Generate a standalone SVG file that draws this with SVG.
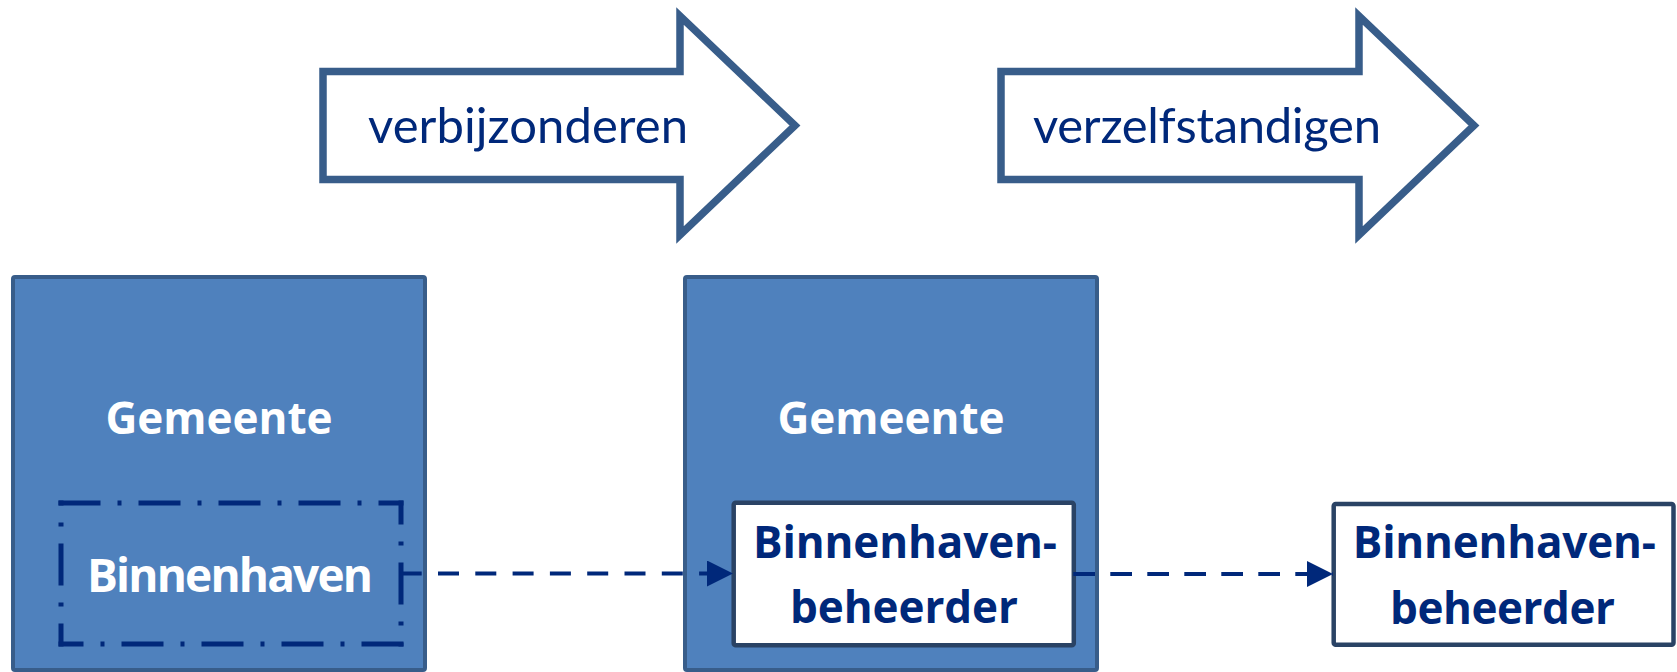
<svg xmlns="http://www.w3.org/2000/svg" width="1677" height="672" viewBox="0 0 1677 672">
<style>
.bg{fill:#ffffff}
.outer{fill:#4F81BD;stroke:#385D8A;stroke-width:4}
.inner{fill:#ffffff;stroke:#2A4365;stroke-width:4.5}
.bigarrow{fill:#ffffff;stroke:#385D8A;stroke-width:7.5;stroke-linejoin:miter;stroke-miterlimit:10}
.dd{stroke:#00287A;stroke-width:5;stroke-dasharray:42 17 4 17;fill:none}
.conn{stroke:#00287A;stroke-width:4;fill:none}
.lbl{font-family:Lato,"Liberation Sans",sans-serif;fill:#00287A}
.w{font-family:"Open Sans","Liberation Sans",sans-serif;font-weight:bold;fill:#ffffff}
.b{font-family:"Open Sans","Liberation Sans",sans-serif;font-weight:bold;fill:#00287A}
</style>
<defs>
<marker id="ah" markerUnits="userSpaceOnUse" markerWidth="27" markerHeight="27" refX="26" refY="13" orient="auto">
<path d="M0,0 L26,13 L0,26 Z" fill="#00287A"/>
</marker>
</defs>
<rect class="bg" x="0" y="0" width="1677" height="672"/>

<g id="arrow-verbijzonderen">
<path class="bigarrow" d="M323,71.5 L680,71.5 L680,16 L795,125.5 L680,235 L680,179.5 L323,179.5 Z"/>
<text class="lbl" x="368" y="143" font-size="49" textLength="320">verbijzonderen</text>
</g>

<g id="arrow-verzelfstandigen">
<path class="bigarrow" d="M1001,71.5 L1359,71.5 L1359,16 L1474,125.5 L1359,235 L1359,179.5 L1001,179.5 Z"/>
<text class="lbl" x="1033" y="143" font-size="49" textLength="348">verzelfstandigen</text>
</g>

<g id="gemeente-1">
<rect class="outer" x="13" y="277" width="412" height="393" rx="2"/>
<text class="w" x="219" y="434" font-size="44" text-anchor="middle" textLength="227">Gemeente</text>
</g>

<g id="binnenhaven">
<line class="dd" x1="58.5" y1="503" x2="403.5" y2="503"/>
<line class="dd" x1="401" y1="500.5" x2="401" y2="646.5" stroke-dashoffset="18"/>
<line class="dd" x1="403.5" y1="644" x2="58.5" y2="644"/>
<line class="dd" x1="61" y1="646.5" x2="61" y2="500.5" stroke-dashoffset="19"/>
<text class="w" x="230" y="592" font-size="46" text-anchor="middle" textLength="286">Binnenhaven</text>
</g>

<g id="gemeente-2">
<rect class="outer" x="685" y="277" width="412" height="393" rx="2"/>
<text class="w" x="891" y="434" font-size="44" text-anchor="middle" textLength="227">Gemeente</text>
</g>

<g id="beheerder-1">
<rect class="inner" x="733.7" y="502.7" width="340.1" height="142.6" rx="2"/>
<text class="b" x="905" y="558" font-size="44" text-anchor="middle" textLength="304">Binnenhaven-</text>
<text class="b" x="904" y="623" font-size="44" text-anchor="middle" textLength="228">beheerder</text>
</g>

<g id="beheerder-2">
<rect class="inner" x="1333.7" y="504" width="339.8" height="140.7" rx="2"/>
<text class="b" x="1504.3" y="558.3" font-size="44" text-anchor="middle" textLength="303">Binnenhaven-</text>
<text class="b" x="1502.5" y="624" font-size="44" text-anchor="middle" textLength="225">beheerder</text>
</g>

<g id="connectors">
<line class="conn" x1="400.7" y1="573.5" x2="733" y2="573.5" stroke-dasharray="21 16.3" marker-end="url(#ah)"/>
<line class="conn" x1="1073.3" y1="574" x2="1333" y2="574" stroke-dasharray="21.7 15.3" marker-end="url(#ah)"/>
</g>
</svg>
